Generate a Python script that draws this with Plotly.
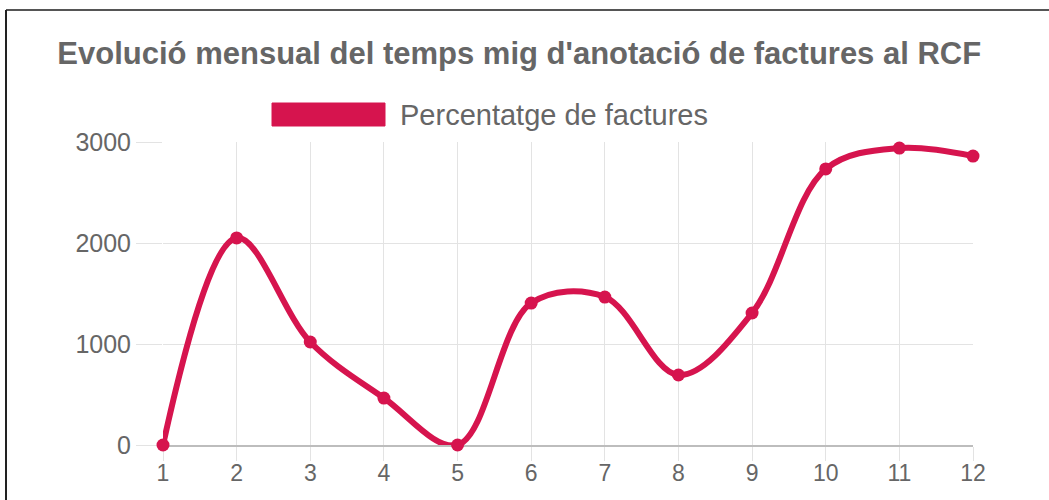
import plotly.graph_objects as go

months = [1, 2, 3, 4, 5, 6, 7, 8, 9, 10, 11, 12]
values = [0, 2050, 1020, 465, 0, 1405, 1465, 693, 1307, 2733, 2940, 2861]
series_name = "Percentatge de factures"
title_text = "Evolució mensual del temps mig d'anotació de factures al RCF"
y_ticks = [0, 1000, 2000, 3000]

color = "#D6144E"
grey = "#666666"
font_family = "Liberation Sans, Arial, sans-serif"

W, H = 1049, 500
L, R, T, B = 163, 76, 142, 55
pw, ph = W - L - R, H - T - B


def px(x):
    return (x - L) / pw


def py(y):
    return (H - B - y) / ph


fig = go.Figure()
fig.add_trace(go.Scatter(
    x=months, y=values, mode="lines+markers", name=series_name,
    line=dict(color=color, width=6, shape="spline", smoothing=1.0),
    marker=dict(color=color, size=13),
    cliponaxis=False, showlegend=False,
))

shapes = [
    # outer frame (top and left edges visible)
    dict(type="line", xref="paper", yref="paper", x0=px(6), x1=px(1049), y0=py(10), y1=py(10),
         line=dict(color="#555555", width=2)),
    dict(type="line", xref="paper", yref="paper", x0=px(6), x1=px(6), y0=py(10), y1=py(500),
         line=dict(color="#222222", width=2)),
    # legend swatch
    dict(type="rect", xref="paper", yref="paper", x0=px(272), x1=px(385), y0=py(126), y1=py(103),
         fillcolor=color, line=dict(color=color, width=1)),
]

annotations = [
    dict(xref="paper", yref="paper", x=px(398), y=py(115), xanchor="left", yanchor="middle",
         text=series_name, showarrow=False, font=dict(family=font_family, size=29, color=grey)),
]

fig.update_layout(
    width=W, height=H,
    margin=dict(l=L, r=R, t=T, b=B, autoexpand=False),
    paper_bgcolor="white", plot_bgcolor="white",
    title=dict(text=title_text, x=0.495, xanchor="center", y=1 - 53 / H, yanchor="middle",
               font=dict(family=font_family, size=31, color=grey, weight="bold")),
    shapes=shapes, annotations=annotations,
    showlegend=False,
    xaxis=dict(range=[1, 12], tickvals=months, ticktext=[str(m) for m in months],
               automargin=False, layer="below traces",
               showgrid=True, gridcolor="#e3e3e3", gridwidth=1,
               ticks="outside", ticklen=14, tickcolor="#e3e3e3", tickwidth=1,
               ticklabelstandoff=-8,
               showline=True, linecolor="#bdbdbd", linewidth=2,
               zeroline=False,
               tickfont=dict(family=font_family, size=23, color=grey)),
    yaxis=dict(range=[0, 3000], tickvals=y_ticks, ticktext=[str(v) for v in y_ticks],
               automargin=False, layer="below traces",
               showgrid=True, gridcolor="#e3e3e3", gridwidth=1,
               ticks="outside", ticklen=26, tickcolor="#e3e3e3", tickwidth=1,
               showline=False, zeroline=False,
               tickfont=dict(family=font_family, size=25, color=grey)),
)

fig.write_html("out.html", config={"displayModeBar": False},
               post_script="document.body.style.margin='0';")
